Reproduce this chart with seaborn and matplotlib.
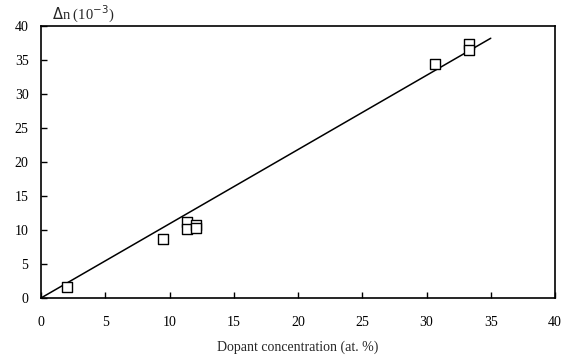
import numpy as np
import pandas as pd
import matplotlib.pyplot as plt
import seaborn as sns

# measured points
CONC = [2.0, 9.5, 11.4, 11.4, 12.1, 12.1, 30.7, 33.3, 33.3]
DELTA_N = [1.6, 8.7, 11.2, 10.2, 10.8, 10.3, 34.4, 37.3, 36.4]

# linear fit line
FIT_X = [0, 35]
FIT_Y = [0, 38.2]

sns.set_style("ticks")
plt.rcParams["font.family"] = ["Liberation Serif", "DejaVu Serif"]

fig = plt.figure(figsize=(5.72, 3.61), dpi=100)
ax = fig.add_axes([41 / 572, 63 / 361, 514 / 572, 272 / 361])

df = pd.DataFrame({"x": CONC, "y": DELTA_N})
fit = pd.DataFrame({"x": FIT_X, "y": FIT_Y})

sns.lineplot(data=fit, x="x", y="y", ax=ax, color="black", linewidth=1.1)
sns.scatterplot(data=df, x="x", y="y", ax=ax, marker="s", s=60,
                facecolor="white", edgecolor="black", linewidth=1.0, zorder=3)

ax.set_xlim(0, 40)
ax.set_ylim(0, 40)
ax.set_xticks(np.arange(0, 41, 5))
ax.set_yticks(np.arange(0, 41, 5))
ax.tick_params(direction="in", length=4, width=1, labelsize=10, colors="black")
ax.tick_params(axis="x", pad=13)
ax.tick_params(axis="y", pad=9)
ax.tick_params(top=False, right=False)
for sp in ax.spines.values():
    sp.set_visible(True)
    sp.set_color("black")
    sp.set_linewidth(1.2)

ax.set_xlabel("Dopant concentration (at. %)", fontsize=10, labelpad=8)
ax.set_ylabel("")
ax.text(0.022, 1.005, r"$\Delta$n (10$^{-3}$)", transform=ax.transAxes,
        fontsize=10.5, ha="left", va="bottom")

fig.savefig("out.png", dpi=100)
